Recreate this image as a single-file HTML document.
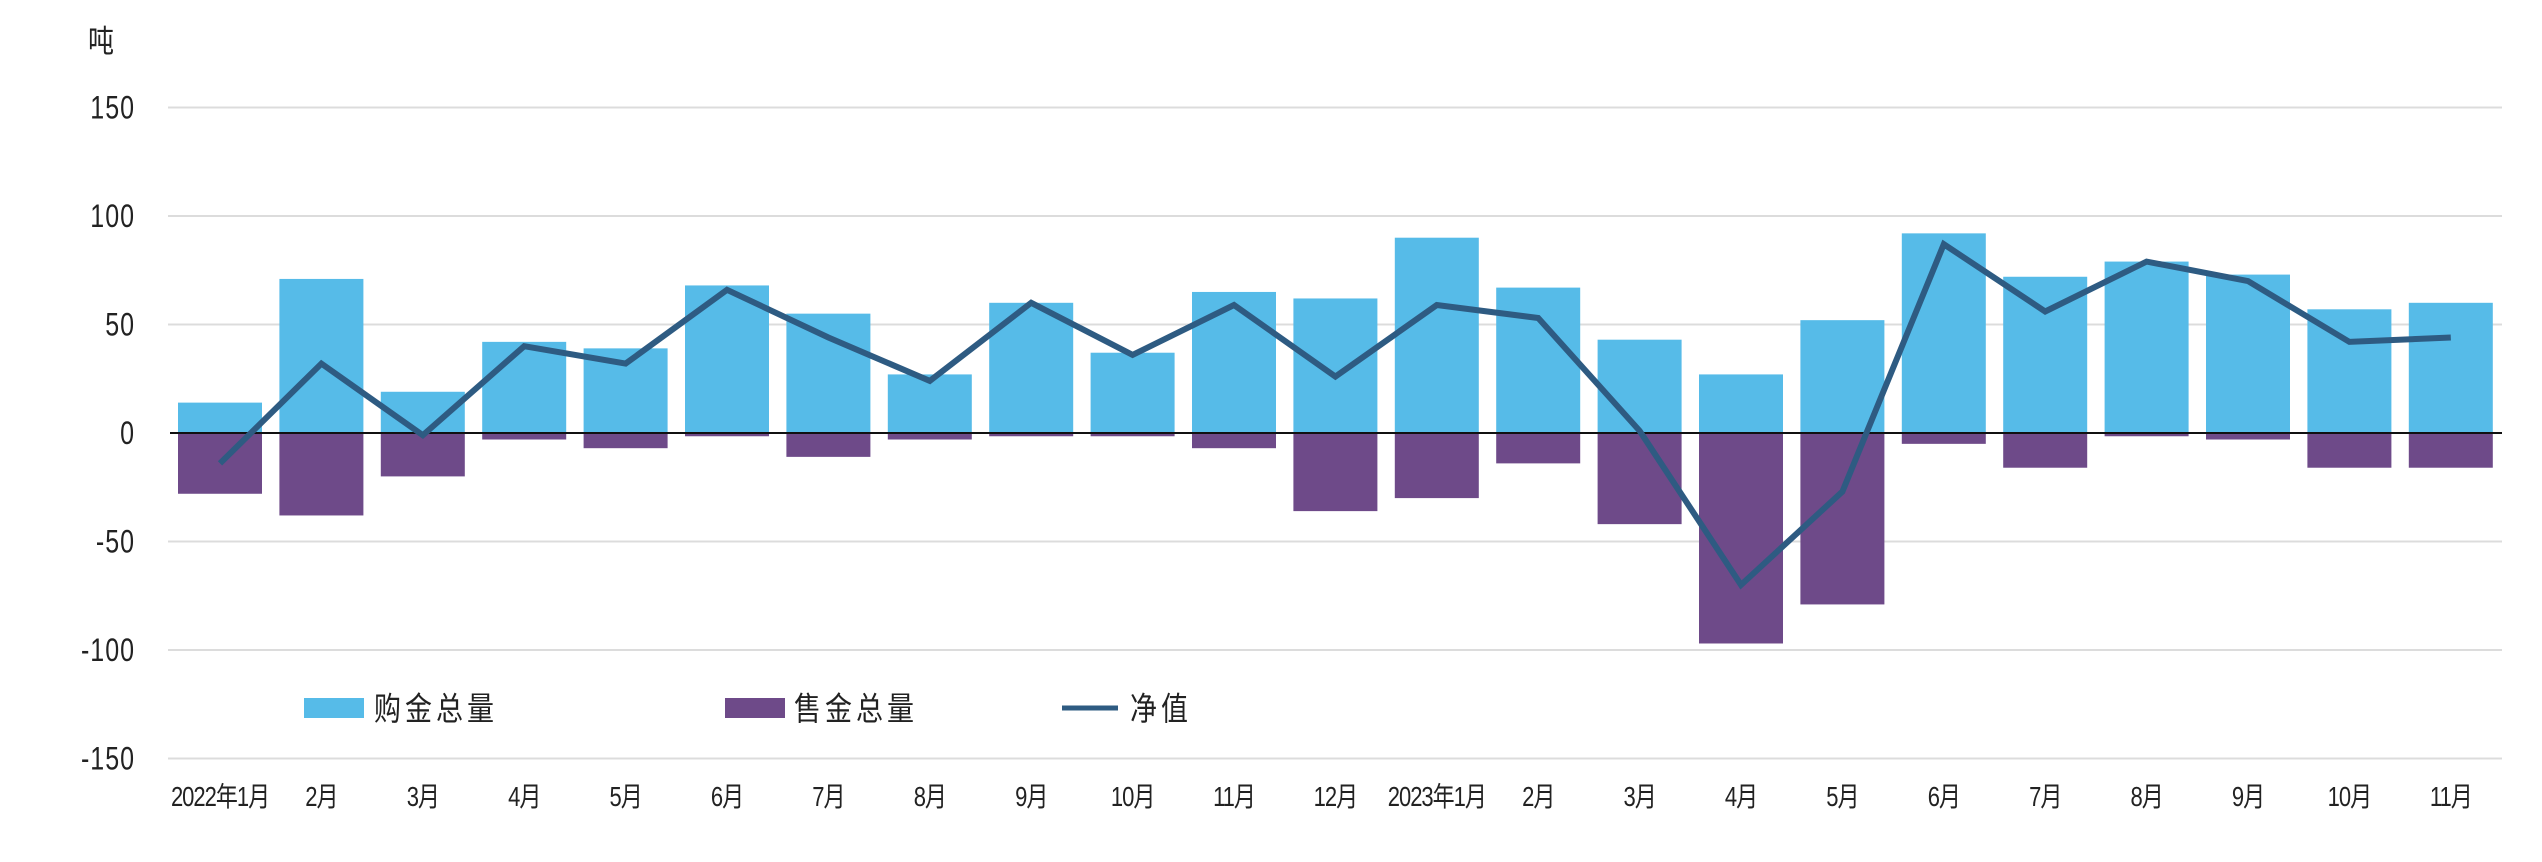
<!DOCTYPE html>
<html><head><meta charset="utf-8">
<style>
html,body{margin:0;padding:0;background:#fff;}
svg{display:block;font-family:"Liberation Sans","Noto Sans CJK SC",sans-serif;}
</style></head>
<body>
<svg id="c" width="2542" height="862" xmlns="http://www.w3.org/2000/svg"></svg>
<script>
const svg=document.getElementById('c');
const NS='http://www.w3.org/2000/svg';
function el(t,a,txt){const e=document.createElementNS(NS,t);for(const k in a)e.setAttribute(k,a[k]);if(txt!==undefined)e.textContent=txt;svg.appendChild(e);return e;}
function tx(x,y,s,sy,anchor,txt,ls){return el('text',{transform:`translate(${x},${y}) scale(1,${sy})`,'text-anchor':anchor,'font-size':s,fill:'#222','letter-spacing':ls||0},txt);}
const Z=433,S=2.17;
const Y=v=>Z-v*S;
[150,100,50,-50,-100,-150].forEach(v=>{
  el('line',{x1:168,x2:2502,y1:Y(v),y2:Y(v),stroke:'#dcdcdc','stroke-width':2});
});
[150,100,50,0,-50,-100,-150].forEach(v=>{
  tx(135,Y(v)+11,25,1.3,'end',String(v),1);
});
tx(88,52,26,1.2,'start','吨');
const buy=[14,71,19,42,39,68,55,27,60,37,65,62,90,67,43,27,52,92,72,79,73,57,60];
const sell=[-28,-38,-20,-3,-7,-1.5,-11,-3,-1.5,-1.5,-7,-36,-30,-14,-42,-97,-79,-5,-16,-1.5,-3,-16,-16];
const net=[-14,32,-1,40,32,66,44,24,60,36,59,26,59,53,1,-70,-27,87,56,79,70,42,44];
const labels=['2022年1月','2月','3月','4月','5月','6月','7月','8月','9月','10月','11月','12月','2023年1月','2月','3月','4月','5月','6月','7月','8月','9月','10月','11月'];
const x0=178,P=101.4,W=84;
for(let i=0;i<23;i++){
  const x=x0+i*P;
  el('rect',{x:x,y:Y(buy[i]),width:W,height:buy[i]*S,fill:'#56bbe8'});
  el('rect',{x:x,y:Z,width:W,height:-sell[i]*S,fill:'#6e4a89'});
  tx(x+W/2,806,22,1.25,'middle',labels[i],-1);
}
el('line',{x1:170,x2:2502,y1:Z,y2:Z,stroke:'#111','stroke-width':2});
let pts=net.map((v,i)=>(x0+i*P+W/2).toFixed(1)+','+Y(v).toFixed(1)).join(' ');
el('polyline',{points:pts,fill:'none',stroke:'#2e5b82','stroke-width':6});
el('rect',{x:304,y:698,width:60,height:20,fill:'#56bbe8'});
tx(374,720,27,1.2,'start','购金总量',4);
el('rect',{x:725,y:698,width:60,height:20,fill:'#6e4a89'});
tx(794,720,27,1.2,'start','售金总量',4);
el('line',{x1:1062,x2:1118,y1:708,y2:708,stroke:'#2e5b82','stroke-width':5});
tx(1130,720,27,1.2,'start','净值',4);
</script>
</body></html>
